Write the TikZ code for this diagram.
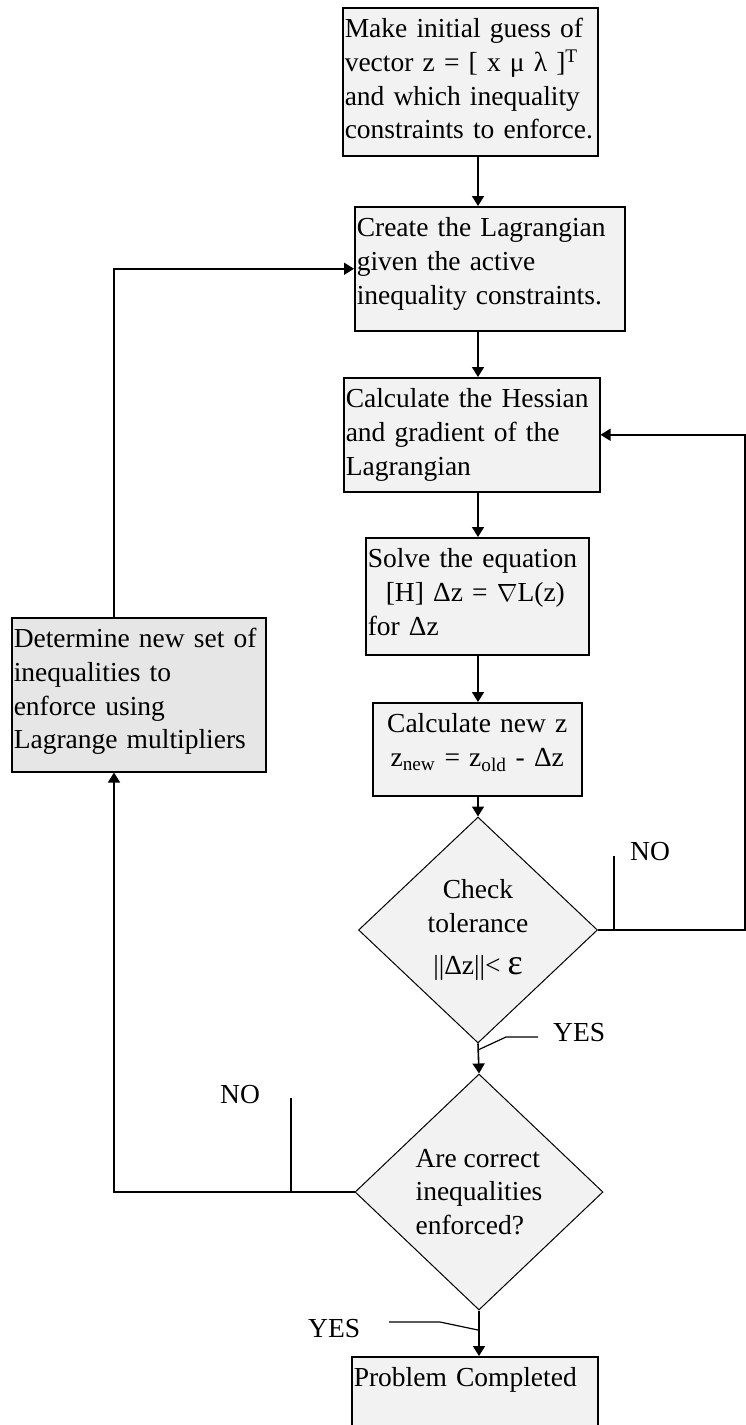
\documentclass[tikz,border=0pt]{standalone}
\usepackage{fontspec}
\setmainfont{Liberation Serif}
\usepackage{tikz}
\usetikzlibrary{arrows.meta,calc,shapes.geometric}
\definecolor{Fog}{HTML}{F2F2F2}
\definecolor{Ash}{HTML}{E6E6E6}
\newcommand{\flowfont}{\fontsize{27.5}{33.7}\selectfont}

\begin{document}
\begin{tikzpicture}[x=1pt, y=-1pt, >={Triangle[length=10pt,width=12pt]},
    stepbox/.style={draw, line width=1.5pt, fill=Fog, anchor=north west, inner xsep=2pt, inner ysep=6pt, text height=24pt, align=left, font=\flowfont},
    test/.style={draw, shape=diamond, line width=1pt, fill=Fog, inner sep=0pt, font=\flowfont},
    flow/.style={->, line width=1.6pt},
    lead/.style={line width=1.2pt},
    tag/.style={inner sep=0pt, anchor=base west, font=\flowfont}]
  \useasboundingbox (0,0) rectangle (746,1425);

  % boxes of the main column
  \node[stepbox, text width=251pt, text depth=112pt] (init) at (342,7) {Make initial guess of\\vector z = [ x μ λ ]\textsuperscript{T}\\and which inequality\\constraints to enforce.};
  \node[stepbox, text width=266pt, text depth=88pt] (lag) at (354,206) {Create the Lagrangian\\given the active\\inequality constraints.};
  \node[stepbox, text width=252pt, text depth=78pt] (hess) at (343,377) {Calculate the Hessian\\and gradient of the\\Lagrangian};
  \node[stepbox, text width=219pt, text depth=81pt] (solve) at (365,537) {Solve the equation\\\hspace*{18pt}[H] Δz = $\nabla$L(z)\\for Δz};
  \node[stepbox, text width=205pt, text depth=57pt, align=center] (newz) at (372,702) {Calculate new z\\z\textsubscript{new} = z\textsubscript{old} - Δz};
  \node[test, minimum width=239pt, minimum height=226pt, align=center] (chk) at (478,930) {Check\\tolerance\\[8pt]||Δz||< {\fontsize{36}{40}\selectfont ε}};
  \node[test, minimum width=248pt, minimum height=236pt, align=left] (ok) at (479,1192) {Are correct\\inequalities\\enforced?};
  \node[stepbox, text width=242pt, text depth=74pt] (done) at (351,1356) {Problem Completed};

  % side box
  \node[stepbox, fill=Ash, text width=250pt, text depth=118pt] (det) at (11,617) {Determine new set of\\inequalities to\\enforce using\\Lagrange multipliers};

  \coordinate (rt) at (745,0);
  \coordinate (lft) at (114,0);

  % connectors
  \draw[flow] (init.south -| chk) -- (lag.north -| chk);
  \draw[flow] (lag.south -| chk) -- (hess.north -| chk);
  \draw[flow] (hess.south -| chk) -- (solve.north -| chk);
  \draw[flow] (solve.south -| chk) -- (newz.north -| chk);
  \draw[flow] (newz.south -| chk) -- (chk.north);
  \draw[flow] (chk.south) -- (ok.north);
  \draw[flow] (ok.south) -- (done.north -| ok);
  \draw[flow] (chk.east) -- (chk.east -| rt) |- (hess.east);
  \draw[flow] (ok.west) -| (lft |- det.south);
  \draw[flow] (lft |- det.north) |- (lag.west);

  % branch labels
  \node[tag] (no1) at (630,860) {NO};
  \node[tag] (yes1) at (553,1041) {YES};
  \node[tag] (no2) at (220,1103) {NO};
  \node[tag] (yes2) at (308,1337) {YES};
  \coordinate (noA) at ($(no1.base west)+(-16,-4)$);
  \coordinate (noB) at ($(no2.base west)+(71,-5)$);
  \draw[lead] (noA) -- (noA |- chk.east);
  \draw[lead] ($(yes1.base west)+(-15,-4)$) -- ++(-32,0) -- ++(-28,13);
  \draw[lead] (noB) -- (noB |- ok.west);
  \draw[lead] ($(yes2.base west)+(81,-15)$) -- ++(51,0) -- ++(38,8);
\end{tikzpicture}
\end{document}
